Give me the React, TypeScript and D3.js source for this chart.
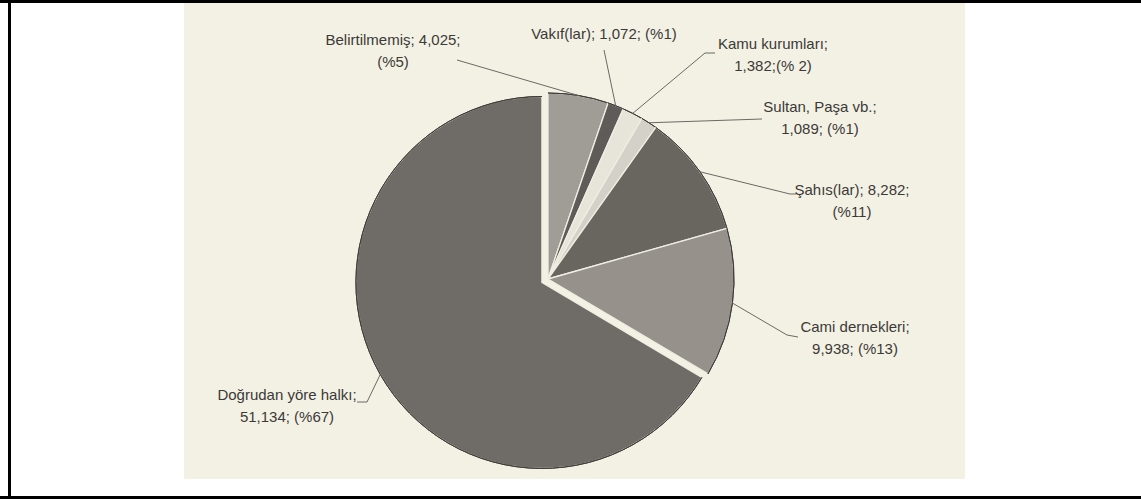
import React from "react";
import * as d3 from "d3";

// ---- data ----
const categories = [
  "Belirtilmemiş",
  "Vakıf(lar)",
  "Kamu kurumları",
  "Sultan, Paşa vb.",
  "Şahıs(lar)",
  "Cami dernekleri",
  "Doğrudan yöre halkı",
];
const values = [4025, 1072, 1382, 1089, 8282, 9938, 51134];
const percents = ["%5", "%1", "% 2", "%1", "%11", "%13", "%67"];
// how each label is split over lines: 0 = "name; value;" / "(pct)", 1 = one line, 2 = "name;" / "value; (pct)", 3 = "name;" / "value;(pct)"
const labelSplit = [0, 1, 3, 2, 0, 2, 2];
const explodedIndex = 6;

// ---- styles / layout ----
const fills = ["#a09d97", "#5f5b58", "#e7e4da", "#d4d1c8", "#69655f", "#96928b", "#6f6b66"];
const W = 1141;
const H = 499;
const cx = 548;
const cy = 279;
const R = 186;
const explode = 7;
// label anchor: [centre x, first baseline y]
const labelPos: [number, number][] = [
  [393, 45],
  [604, 39],
  [773, 49],
  [820, 112],
  [852, 195],
  [855, 332],
  [287, 400],
];
// leader points on the label side (from pie outwards)
const leaderEnds: [number, number][][] = [
  [[457, 60]],
  [[604, 50]],
  [[705, 53], [715, 53]],
  [[762, 119]],
  [[790, 194], [796, 194]],
  [[787, 335], [798, 337]],
  [[367, 402], [357, 402]],
];

const fmt = d3.format(",");

function labelLines(i: number): string[] {
  const name = categories[i];
  const v = fmt(values[i]);
  const p = percents[i];
  switch (labelSplit[i]) {
    case 0:
      return [`${name}; ${v};`, `(${p})`];
    case 1:
      return [`${name}; ${v}; (${p})`];
    case 3:
      return [`${name};`, `${v};(${p})`];
    default:
      return [`${name};`, `${v}; (${p})`];
  }
}

export default function App() {
  const pie = d3
    .pie<number>()
    .sort(null)
    .value((d) => d)
    .startAngle(0)
    .endAngle(2 * Math.PI);
  const arcs = pie(values);
  const arc = d3.arc<d3.PieArcDatum<number>>().innerRadius(0).outerRadius(R);
  const rim = d3.arc<d3.PieArcDatum<number>>().innerRadius(R).outerRadius(R);

  return (
    <svg
      width={W}
      height={H}
      viewBox={`0 0 ${W} ${H}`}
      style={{ position: "absolute", left: 0, top: 0, display: "block" }}
    >
      <rect x={0} y={0} width={W} height={H} fill="#ffffff" />
      <rect x={184} y={3} width={781} height={476} fill="#f3f1e4" />

      {arcs.map((a, i) => {
        const mid = (a.startAngle + a.endAngle) / 2;
        const off = i === explodedIndex ? explode : 0;
        const ox = cx + off * Math.sin(mid);
        const oy = cy - off * Math.cos(mid);
        return (
          <g key={categories[i]} transform={`translate(${ox},${oy})`}>
            <path d={arc(a) || ""} fill={fills[i]} stroke="#f0eee2" strokeWidth={1.3} strokeLinejoin="round" />
            <path d={rim(a) || ""} fill="none" stroke="#3f3c39" strokeWidth={1} />
          </g>
        );
      })}

      {arcs.map((a, i) => {
        const mid = (a.startAngle + a.endAngle) / 2;
        const off = i === explodedIndex ? explode : 0;
        const px = cx + (R + off) * Math.sin(mid);
        const py = cy - (R + off) * Math.cos(mid);
        const pts: [number, number][] = [[px, py], ...leaderEnds[i]];
        return (
          <path
            key={"l" + i}
            d={d3.line()(pts) || ""}
            fill="none"
            stroke="#6b6964"
            strokeWidth={1}
          />
        );
      })}

      {categories.map((c, i) => {
        const lines = labelLines(i);
        const [lx, ly] = labelPos[i];
        return (
          <text
            key={"t" + i}
            x={lx}
            y={ly}
            textAnchor="middle"
            fontFamily="'Liberation Sans', Arial, sans-serif"
            fontSize={15}
            fill="#3b3a38"
          >
            {lines.map((ln, j) => (
              <tspan key={j} x={lx} y={ly + j * 21.5}>
                {ln}
              </tspan>
            ))}
          </text>
        );
      })}

      {/* frame */}
      <line x1={0} x2={W} y1={1.5} y2={1.5} stroke="#000" strokeWidth={3} />
      <line x1={0} x2={W} y1={497.5} y2={497.5} stroke="#000" strokeWidth={3} />
      <line x1={9.5} x2={9.5} y1={0} y2={H} stroke="#000" strokeWidth={3} />
    </svg>
  );
}
